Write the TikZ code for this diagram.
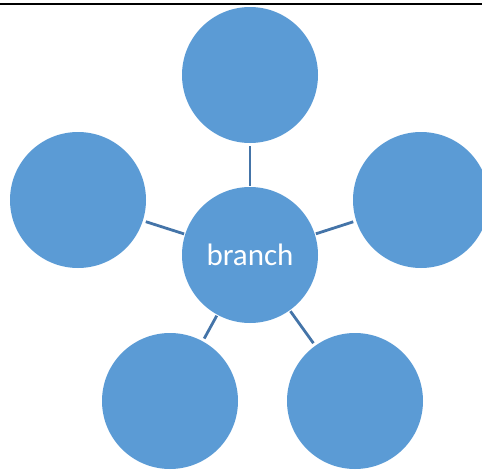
\documentclass[tikz,border=0pt]{standalone}
\usepackage{fontspec}
\setmainfont{Carlito}
\usetikzlibrary{backgrounds}
\definecolor{bubble}{HTML}{5B9BD5}
\definecolor{spoke}{HTML}{4474A8}
\begin{document}
\begin{tikzpicture}[x=1pt,y=-1pt,
  bubble/.style={circle,fill=bubble,minimum size=136pt,inner sep=0pt,
    text=white,font=\fontsize{31}{37}\selectfont},
  spokeline/.style={draw=spoke,line width=2.8pt,shorten <=1pt,shorten >=3pt}]
\clip (0,0) rectangle (482,471);
\useasboundingbox (0,0) rectangle (482,471);
% rule along the top edge
\draw[line width=2.4pt] (0,4) -- (482,4);
% hub and satellites
\node[bubble] (hub) at (250,255) {branch};
\node[bubble] (top) at (250,75) {};
\node[bubble] (left) at (78,200) {};
\node[bubble] (right) at (421,200) {};
\node[bubble] (bl) at (170,401) {};
\node[bubble] (br) at (355,401) {};
% spokes from rim to rim, with a small gap at the outer end
\foreach \s in {top,left,right,bl,br}
  \draw[spokeline] (hub) -- (\s);
\end{tikzpicture}
\end{document}
